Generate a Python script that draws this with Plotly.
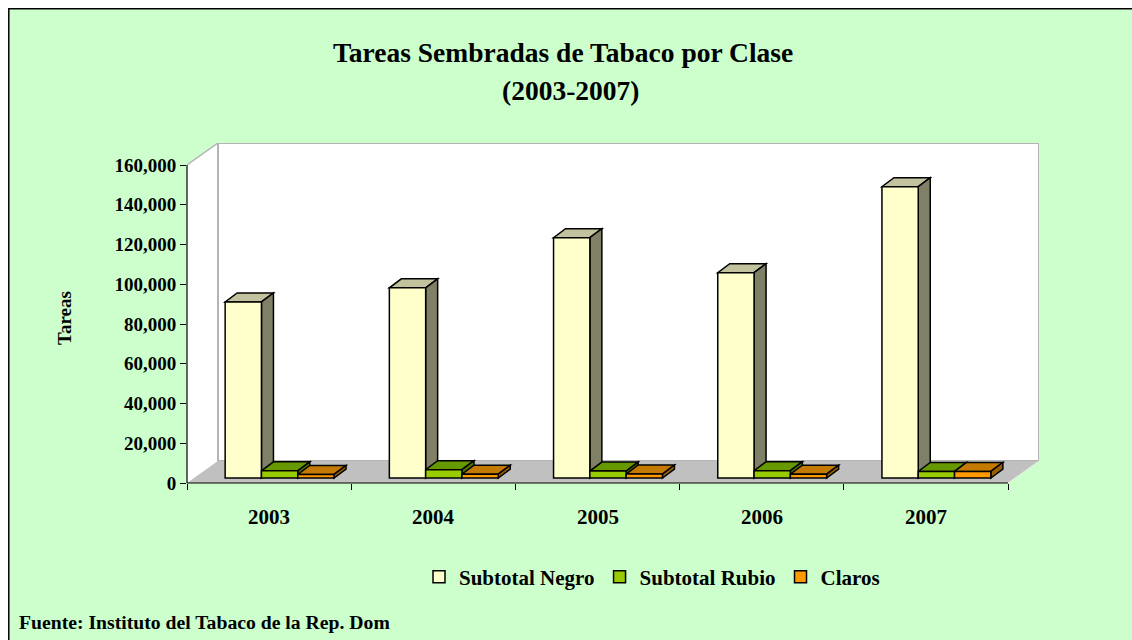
import plotly.graph_objects as go

# ---------------- data ----------------
years = ["2003", "2004", "2005", "2006", "2007"]
series_names = ["Subtotal Negro", "Subtotal Rubio", "Claros"]
negro = [88600, 95700, 120900, 103300, 146600]
rubio = [3600, 4200, 3500, 3700, 3300]
claros = [1800, 1900, 2000, 1900, 3300]
y_tick_vals = [0, 20000, 40000, 60000, 80000, 100000, 120000, 140000, 160000]
y_tick_text = ["0", "20,000", "40,000", "60,000", "80,000", "100,000", "120,000", "140,000", "160,000"]
title_line1 = "Tareas Sembradas de Tabaco por Clase"
title_line2 = "(2003-2007)"
y_title = "Tareas"
source_text = "Fuente: Instituto del Tabaco de la Rep. Dom"

# ---------------- styling / geometry ----------------
FONT = "Liberation Serif"
front_cols = ["#FFFFCC", "#99CC00", "#FF9900"]
top_cols = ["#C2C29E", "#669900", "#C47A00"]
side_cols = ["#808066", "#4F7500", "#9A5E00"]

PAGE_OFF = 8                                   # body margin of the page
W, H = 1132 - PAGE_OFF, 640 - PAGE_OFF         # figure fits the window exactly
PL, PR, PT, PB = 187 - PAGE_OFF, 1039 - PAGE_OFF, 143 - PAGE_OFF, 483 - PAGE_OFF
Y_MAX = 160000
FLOOR_DX_PX, FLOOR_DY_PX = 31, 22
ppy = (PB - PT - FLOOR_DY_PX) / Y_MAX
ncat = len(years)
ppx = (PR - PL - FLOOR_DX_PX) / ncat
FDX = FLOOR_DX_PX / ppx
FDY = FLOOR_DY_PX / ppy
BAR_W = 36.3 / ppx
GROUP_SHIFT = 10.5 / ppx
DX = 12 / ppx
DY = 9 / ppy
BASE = 5 / ppy

x_lo, x_hi = -0.5, ncat - 0.5


def px_x(px):  # page px -> paper
    return (px - PAGE_OFF - PL) / (PR - PL)


def px_y(py):
    return (PB - (py - PAGE_OFF)) / (PB - PT)


fig = go.Figure()
series = [negro, rubio, claros]
xs = list(range(ncat))

for k, (name, vals) in enumerate(zip(series_names, series)):
    fig.add_trace(go.Bar(
        x=xs, y=vals, base=[BASE] * ncat, width=BAR_W,
        offset=GROUP_SHIFT + (k - 1.5) * BAR_W,
        name=f"<b>{name}</b>",
        marker=dict(color=front_cols[k], line=dict(color="black", width=1.5)),
        hoverinfo="skip",
    ))

shapes = []
shapes.append(dict(type="path", xref="x", yref="y", layer="below",
                   path=f"M{x_lo},0 L{x_lo},{Y_MAX} L{x_lo+FDX},{Y_MAX+FDY} L{x_lo+FDX},{FDY} Z",
                   fillcolor="white", line=dict(width=0)))
shapes.append(dict(type="rect", xref="x", yref="y", layer="below",
                   x0=x_lo + FDX, x1=x_hi + FDX, y0=FDY, y1=Y_MAX + FDY,
                   fillcolor="white", line=dict(color="#B4B4B4", width=2)))
shapes.append(dict(type="path", xref="x", yref="y", layer="below",
                   path=f"M{x_lo},0 L{x_hi},0 L{x_hi+FDX},{FDY} L{x_lo+FDX},{FDY} Z",
                   fillcolor="#C0C0C0", line=dict(width=0)))
shapes.append(dict(type="line", xref="x", yref="y", layer="below",
                   x0=x_lo, y0=Y_MAX, x1=x_lo + FDX, y1=Y_MAX + FDY,
                   line=dict(color="#B4B4B4", width=1.5)))
shapes.append(dict(type="line", xref="x", yref="y", layer="below",
                   x0=x_hi, y0=0, x1=x_hi + FDX, y1=FDY,
                   line=dict(color="#E8E8E8", width=1)))

for i in range(ncat):
    for k, vals in enumerate(series):
        x0 = i + GROUP_SHIFT + (k - 1.5) * BAR_W
        x1 = x0 + BAR_W
        yb = BASE
        yt = BASE + vals[i]
        shapes.append(dict(type="path", xref="x", yref="y", layer="below",
                           path=f"M{x0},{yt} L{x1},{yt} L{x1+DX},{yt+DY} L{x0+DX},{yt+DY} Z",
                           fillcolor=top_cols[k], line=dict(color="black", width=1.5)))
        shapes.append(dict(type="path", xref="x", yref="y", layer="below",
                           path=f"M{x1},{yb} L{x1},{yt} L{x1+DX},{yt+DY} L{x1+DX},{yb+DY} Z",
                           fillcolor=side_cols[k], line=dict(color="black", width=1.5)))

shapes.append(dict(type="line", xref="paper", yref="y", layer="above",
                   x0=0, x1=0, y0=0, y1=Y_MAX, line=dict(color="black", width=1.2)))
shapes.append(dict(type="line", xref="x", yref="paper", layer="above",
                   x0=x_lo, x1=x_hi, y0=0, y1=0, line=dict(color="black", width=1.2)))
# chart border: top edge and left edge
shapes.append(dict(type="path", xref="paper", yref="paper", layer="above",
                   path=f"M{px_x(8.8)},{px_y(700)} L{px_x(8.8)},{px_y(8.8)} L{px_x(1200)},{px_y(8.8)}",
                   line=dict(color="black", width=1.5)))

annotations = [
    dict(text=f"<b>{title_line1}</b>", xref="paper", yref="paper",
         x=px_x(563), y=px_y(52), xanchor="center", yanchor="middle",
         showarrow=False, font=dict(family=FONT, size=27.5, color="black")),
    dict(text=f"<b>{title_line2}</b>", xref="paper", yref="paper",
         x=px_x(570), y=px_y(90), xanchor="center", yanchor="middle",
         showarrow=False, font=dict(family=FONT, size=27.5, color="black")),
    dict(text=f"<b>{y_title}</b>", xref="paper", yref="paper", textangle=-90,
         x=px_x(64), y=px_y(318), xanchor="center", yanchor="middle",
         showarrow=False, font=dict(family=FONT, size=19, color="black")),
    dict(text=f"<b>{source_text}</b>", xref="paper", yref="paper",
         x=px_x(17), y=px_y(622), xanchor="left", yanchor="middle",
         showarrow=False, font=dict(family=FONT, size=19.7, color="black")),
]
for i, yr in enumerate(years):
    annotations.append(dict(text=f"<b>{yr}</b>", xref="x", yref="paper",
                            x=i, y=px_y(517), xanchor="center", yanchor="middle",
                            showarrow=False, font=dict(family=FONT, size=21, color="black")))

boundaries = [x_lo + j for j in range(ncat + 1)]

fig.update_layout(
    width=W, height=H,
    margin=dict(l=PL, r=W - PR, t=PT, b=H - PB, autoexpand=False),
    paper_bgcolor="#CCFFCC", plot_bgcolor="rgba(0,0,0,0)",
    barmode="overlay",
    font=dict(family=FONT, color="black"),
    xaxis=dict(range=[x_lo, x_hi + FDX], tickvals=boundaries, ticktext=[""] * len(boundaries),
               ticks="outside", ticklen=6, tickcolor="black", tickwidth=1,
               showgrid=False, zeroline=False, showline=False, fixedrange=True),
    yaxis=dict(range=[0, Y_MAX + FDY], tickvals=y_tick_vals,
               ticktext=[f"<b>{t}</b>" for t in y_tick_text],
               ticks="outside", ticklen=6, tickcolor="black", tickwidth=1,
               tickfont=dict(family=FONT, size=19, color="black"),
               showgrid=False, zeroline=False, showline=False, automargin=False, fixedrange=True),
    legend=dict(orientation="h", x=px_x(652), y=px_y(577), xanchor="center", yanchor="middle",
                font=dict(family=FONT, size=21, color="black"), bgcolor="rgba(0,0,0,0)",
                traceorder="normal", itemclick=False),
    shapes=shapes,
    annotations=annotations,
)

fig.write_html(
    "out.html",
    config={"displayModeBar": False},
    post_script=("document.body.style.marginBottom='0';document.body.style.marginRight='0';"
                 "document.documentElement.style.overflow='hidden';document.body.style.overflow='hidden';"),
)
